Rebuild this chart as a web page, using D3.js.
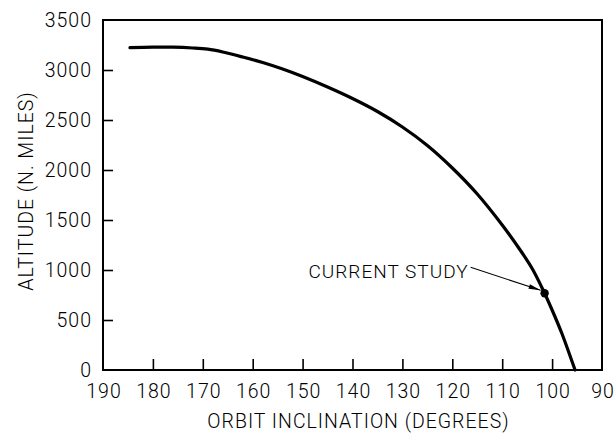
<!DOCTYPE html>
<html>
<head>
<meta charset="utf-8">
<script src="https://cdn.jsdelivr.net/npm/d3@7"></script>
<style>
  html, body { margin: 0; padding: 0; background: #fff; }
  svg { display: block; }
  text { font-family: Roboto, "Liberation Sans", Arial, sans-serif; font-weight: 300; fill: #000; letter-spacing: 1px; }
</style>
</head>
<body>
<svg id="chart" width="614" height="437"></svg>
<script>
// ---- data ----
const inclination = [184.6, 180, 176, 172, 169, 166, 162, 158, 154, 150, 145, 140, 135, 130, 125, 120, 115, 110, 106.4, 104, 102, 100, 98, 96, 95.4];
const altitude    = [3223, 3228, 3228, 3220, 3208, 3180, 3130, 3075, 3010, 2935, 2830, 2715, 2585, 2430, 2245, 2020, 1760, 1450, 1200, 1015, 820, 600, 360, 85, 0];
const xTicks = [190, 180, 170, 160, 150, 140, 130, 120, 110, 100, 90];
const yTicks = [0, 500, 1000, 1500, 2000, 2500, 3000, 3500];
const studyPoint = [101.5, 767];
const studyLabel = "CURRENT STUDY";
const xTitle = "ORBIT INCLINATION (DEGREES)";
const yTitle = "ALTITUDE (N. MILES)";

// ---- layout ----
const W = 614, H = 437;
const m = { left: 103, right: 12, top: 20, bottom: 67 };
const svg = d3.select("#chart");

const x = d3.scaleLinear().domain([190, 90]).range([m.left, W - m.right]);
const y = d3.scaleLinear().domain([0, 3500]).range([H - m.bottom, m.top]);

// axes (ticks pointing inward)
const xAxis = d3.axisBottom(x).tickValues(xTicks).tickSizeInner(-11).tickSizeOuter(0).tickPadding(14).tickFormat(d3.format("d"));
const yAxis = d3.axisLeft(y).tickValues(yTicks).tickSizeInner(-10).tickSizeOuter(0).tickPadding(11).tickFormat(d3.format("d"));

const gx = svg.append("g").attr("transform", `translate(0,${y(0)})`).call(xAxis);
const gy = svg.append("g").attr("transform", `translate(${x(190)},0)`).call(yAxis);
[gx, gy].forEach(g => {
  g.select(".domain").remove();
  g.selectAll("line").attr("stroke", "#000").attr("stroke-width", 1.6);
  g.selectAll("text").attr("font-size", 19.5).attr("fill", "#000")
    .attr("font-family", null);
});
gx.selectAll("text").attr("dx", "0.5px");
// remove ticks at frame edges
gx.selectAll(".tick").filter(d => d === 190 || d === 90).select("line").remove();
gy.selectAll(".tick").filter(d => d === 0 || d === 3500).select("line").remove();

// frame
svg.append("rect")
  .attr("x", x(190)).attr("y", y(3500))
  .attr("width", x(90) - x(190)).attr("height", y(0) - y(3500))
  .attr("fill", "none").attr("stroke", "#000").attr("stroke-width", 2);

// curve
const pts = inclination.map((d, i) => [d, altitude[i]]);
const line = d3.line().x(d => x(d[0])).y(d => y(d[1])).curve(d3.curveCatmullRom.alpha(0.5));
svg.append("path").datum(pts).attr("d", line)
  .attr("fill", "none").attr("stroke", "#000").attr("stroke-width", 3.2)
  .attr("stroke-linecap", "round").attr("stroke-linejoin", "round");

// current study point
const px = x(studyPoint[0]), py = y(studyPoint[1]);
svg.append("circle").attr("cx", px).attr("cy", py).attr("r", 4.2).attr("fill", "#000");

// annotation
svg.append("defs").append("marker")
  .attr("id", "arr").attr("viewBox", "0 0 12 6").attr("refX", 12).attr("refY", 3)
  .attr("markerWidth", 13).attr("markerHeight", 6).attr("markerUnits", "userSpaceOnUse")
  .attr("orient", "auto")
  .append("path").attr("d", "M0,0.6 L12,3 L0,5.4 Z").attr("fill", "#000");

svg.append("line")
  .attr("x1", px - 74).attr("y1", py - 26)
  .attr("x2", px - 4).attr("y2", py - 3)
  .attr("stroke", "#000").attr("stroke-width", 1.1)
  .attr("marker-end", "url(#arr)");

svg.append("text")
  .attr("x", px - 76).attr("y", py - 15.5)
  .attr("text-anchor", "end").attr("font-size", 19)
  .text(studyLabel);

// axis titles
svg.append("text")
  .attr("x", (x(190) + x(90)) / 2 + 6).attr("y", 427.5)
  .attr("text-anchor", "middle").attr("font-size", 19.5)
  .text(xTitle);

svg.append("text")
  .attr("transform", `translate(33,${(y(0) + y(3500)) / 2 - 4}) rotate(-90)`)
  .attr("text-anchor", "middle").attr("font-size", 19.5)
  .text(yTitle);
</script>
</body>
</html>
